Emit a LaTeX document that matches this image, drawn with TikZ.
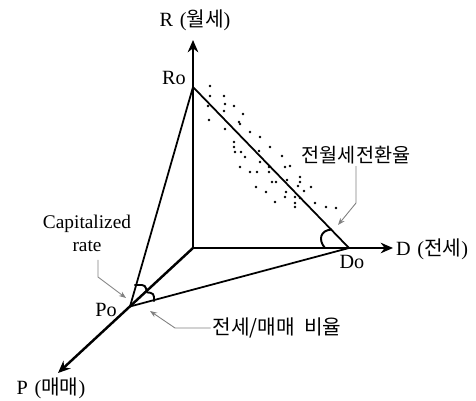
\documentclass[tikz,border=0pt]{standalone}
\usepackage{fontspec}
\setmainfont{Liberation Serif}
\newfontfamily\krfont{Noto Sans CJK KR}
\usepackage{tikz}
\usetikzlibrary{arrows.meta}
\tikzset{axis/.style={line width=1.4pt,-{Stealth[length=7pt,width=6pt]}},
  edge/.style={line width=1pt},
  anglemark/.style={line width=1.1pt,rounded corners=2pt},
  callout/.style={gray,line width=0.5pt,-{Stealth[length=4pt,width=3pt]}},
  lbl/.style={font=\fontsize{11.5}{13}\selectfont,inner sep=1pt}}
\begin{document}
\begin{tikzpicture}[>=Stealth,x=0.02cm,y=-0.02cm]
\useasboundingbox (0,0) rectangle (476,401);
% axes and intercepts
\coordinate (O) at (193,248);\coordinate (Rtip) at (193,40);\coordinate (Dtip) at (393,248);\coordinate (Ptip) at (58,373);
\coordinate (Ro) at (193,87);\coordinate (Do) at (349,248);\coordinate (Po) at (130,306.5);
\draw[axis] (O)--(Rtip);\draw[axis] (O)--(Dtip);\draw[axis] (O)--(Ptip);
\draw[edge] (Ro)--(Do)--(Po)--cycle;
% scatter
\foreach \x/\y in {210/86,210/96,224/96,208/106,225/104,224/111,234/106,209/120,243/114,225/129,239/122,240/124,250/132,260/137,
 234/142,234/147,270/147,235/152,241/152,259/151,245/157,282/156,260/162,269/167,285/167,290/166,240/167,250/172,257/172,269/172,
 300/177,300/182,272/182,276/182,287/180,256/187,298/186,311/187,266/192,286/192,304/191,285/197,295/197,300/198,275/202,295/203,
 295/207,315/203,326/207,336/208}
  \fill (\x,\y) circle(0.8pt);
% angle marks
\draw[anglemark] (134.3,285)--(145.5,285)--(146.7,292.3);
\draw[anglemark] (146.7,292.3)--(154,293.3)--(154,301.7);
\draw[line width=1.1pt] (325,248) .. controls (318,240) and (320,230) .. (332,229.5);
% labels
\node[lbl] (Rlab) at (195,20) {R\,\,({\krfont 월세})};
\node[lbl] (Dlab) [anchor=west] at (394,249) {D\,\,({\krfont 전세})};
\node[lbl] (Plab) at (51,388) {P\,\,({\krfont 매매})};
\node[lbl] (Rolab) at (174,78) {Ro};\node[lbl] (Dolab) at (352,262) {Do};\node[lbl] (Polab) at (106,310) {Po};
\node[lbl,align=center,font=\fontsize{11}{13}\selectfont] (cap) at (87,233) {Capitalized\\rate};
\node[lbl,font=\krfont\fontsize{11.2}{13}\selectfont] (conv) at (356,155) {전월세전환율};
\node[lbl,font=\krfont\fontsize{11.5}{13}\selectfont] (ratio) at (277,328) {전세/매매\ \ 비율};
% callouts
\coordinate (capt) at (126,298);\coordinate (ratiot) at (150,311);\coordinate (convt) at (338,225);
\draw[callout] (98,260)--(98,277)--(capt);
\draw[callout] (ratio.west)--(175,328)--(ratiot);
\draw[callout] (conv.south)--(356,203)--(convt);
\end{tikzpicture}
\end{document}
